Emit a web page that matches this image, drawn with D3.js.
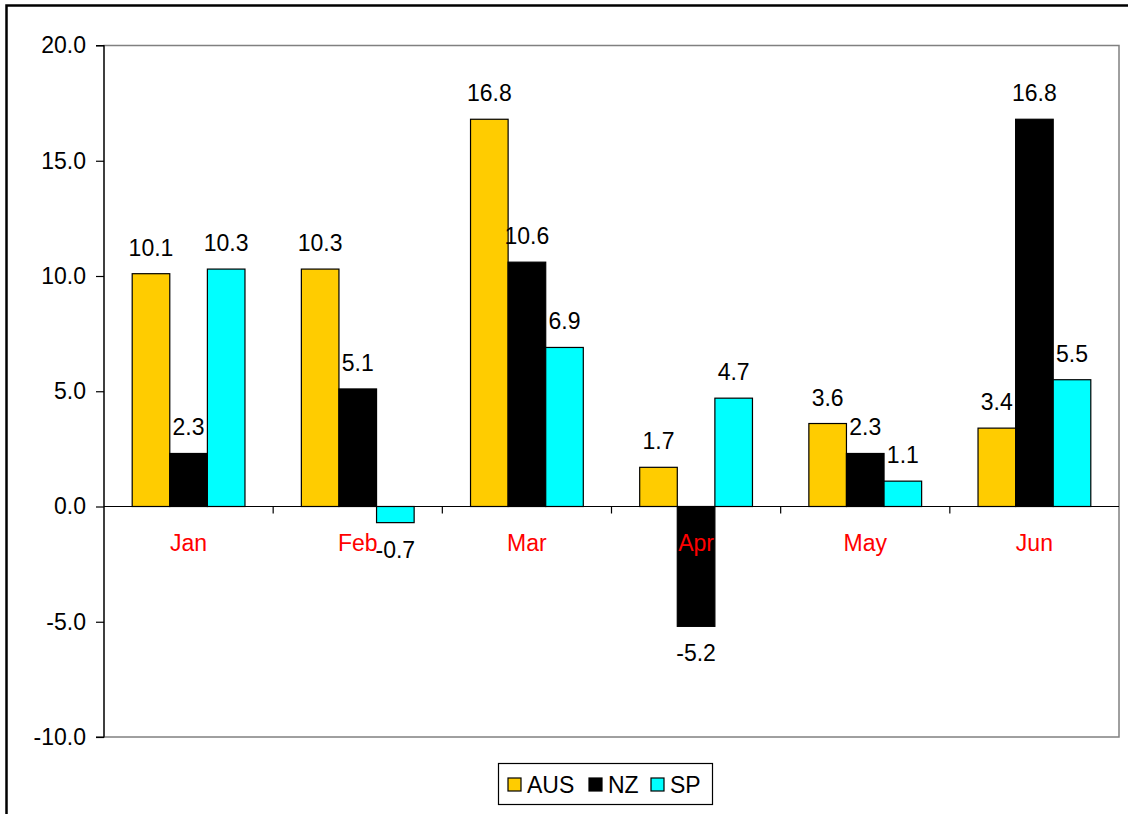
<!DOCTYPE html>
<html><head><meta charset="utf-8">
<script src="https://cdn.jsdelivr.net/npm/d3@7"></script>
<style>body{margin:0;background:#fff}svg{display:block}text{font-family:"Liberation Sans",Arial,sans-serif}</style>
</head><body>
<svg id="c" width="1128" height="814"></svg>
<script>
const categories = ["Jan","Feb","Mar","Apr","May","Jun"];
const seriesNames = ["AUS","NZ","SP"];
const ausValues = [10.1, 10.3, 16.8, 1.7, 3.6, 3.4];
const nzValues = [2.3, 5.1, 10.6, -5.2, 2.3, 16.8];
const spValues = [10.3, -0.7, 6.9, 4.7, 1.1, 5.5];
const seriesColors = ["#FFCC00","#000000","#00FFFF"];
const yTicks = [-10, -5, 0, 5, 10, 15, 20];

const series = [ausValues, nzValues, spValues];
const fmt = v => d3.format(".1f")(v).replace("\u2212","-");
const svg = d3.select("#c");
const L = 104, R = 1119, T = 45.5, B = 737;
const FS = 23;

// outer frame
svg.append("rect").attr("x",6.5).attr("y",5.5).attr("width",1200).attr("height",900)
  .attr("fill","none").attr("stroke","#000").attr("stroke-width",2.5);

const x0 = d3.scaleBand().domain(categories).range([L,R]).paddingInner(0).paddingOuter(0);
const bw = x0.bandwidth()/(3+1.5);
const x1 = d3.scaleBand().domain(seriesNames).range([bw*0.75, bw*0.75+3*bw]);
const y = d3.scaleLinear().domain([-10,20]).range([B,T]);

// plot border (gray)
svg.append("rect").attr("x",L).attr("y",T).attr("width",R-L).attr("height",B-T)
  .attr("fill","none").attr("stroke","#808080").attr("stroke-width",1.5);

// bars
const g = svg.append("g");
categories.forEach((c,i)=>{
  series.forEach((vals,s)=>{
    const v = vals[i];
    const bx = x0(c)+x1(seriesNames[s]);
    g.append("rect").attr("x",bx).attr("width",x1.bandwidth())
      .attr("y",y(Math.max(0,v))).attr("height",Math.abs(y(v)-y(0)))
      .attr("fill",seriesColors[s]).attr("stroke","#000").attr("stroke-width",1.2);
  });
});

// y axis
const yAxis = d3.axisLeft(y).tickValues(yTicks).tickSize(8).tickPadding(10).tickFormat(fmt);
const ya = svg.append("g").attr("transform",`translate(${L},0)`).call(yAxis);
ya.select(".domain").attr("stroke","#000").attr("stroke-width",1.2).attr("d",`M-8,${T}H0V${B}H-8`);
ya.selectAll(".tick line").attr("stroke","#000").attr("stroke-width",1.2);
ya.selectAll(".tick text").attr("font-size",FS).attr("fill","#000").style("font-family","'Liberation Sans',Arial,sans-serif");

// zero line with category ticks
svg.append("line").attr("x1",L).attr("x2",R).attr("y1",y(0)).attr("y2",y(0)).attr("stroke","#000").attr("stroke-width",1.2);
categories.forEach((c,i)=>{
  if(i>0) svg.append("line").attr("x1",x0(c)).attr("x2",x0(c)).attr("y1",y(0)).attr("y2",y(0)+7).attr("stroke","#000").attr("stroke-width",1.2);
});

// category labels
categories.forEach(c=>{
  svg.append("text").attr("x",x0(c)+x0.bandwidth()/2).attr("y",y(0)+44).attr("text-anchor","middle")
    .attr("font-size",FS).attr("fill","#FF0000").text(c);
});

// value labels
categories.forEach((c,i)=>{
  series.forEach((vals,s)=>{
    const v = vals[i];
    const cx = x0(c)+x1(seriesNames[s])+x1.bandwidth()/2;
    const ty = v>=0 ? y(v)-18 : y(v)+35;
    svg.append("text").attr("x",cx).attr("y",ty).attr("text-anchor","middle")
      .attr("font-size",FS).attr("fill","#000").text(fmt(v));
  });
});

// legend
const lg = svg.append("g");
lg.append("rect").attr("x",498.5).attr("y",763.5).attr("width",214).attr("height",41)
  .attr("fill","#fff").attr("stroke","#000").attr("stroke-width",1.2);
const lx = [508, 589, 651];
seriesNames.forEach((n,s)=>{
  lg.append("rect").attr("x",lx[s]).attr("y",778).attr("width",13).attr("height",13)
    .attr("fill",seriesColors[s]).attr("stroke","#000").attr("stroke-width",1.2);
  lg.append("text").attr("x",lx[s]+19).attr("y",792.5).attr("font-size",FS).attr("fill","#000").text(n);
});
</script>
</body></html>
